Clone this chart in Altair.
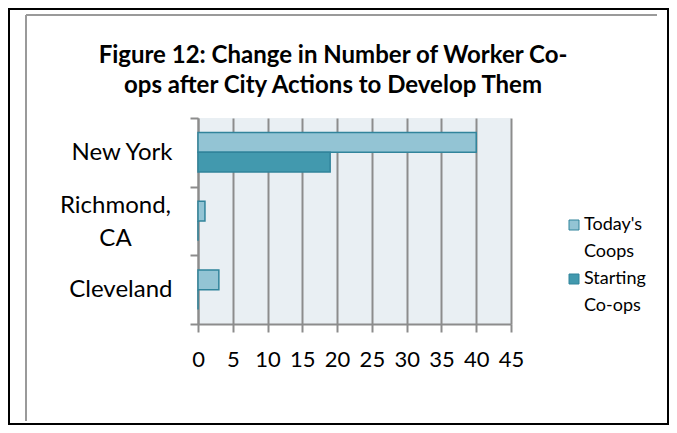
import altair as alt
import pandas as pd

cities = ["New York", "Richmond, CA", "Cleveland"]
series = ["Today's Coops", "Starting Co-ops"]
todays = [40, 1, 3]
starting = [19, 0, 0]
x_ticks = [0, 5, 10, 15, 20, 25, 30, 35, 40, 45]
title_lines = ["Figure 12: Change in Number of Worker Co-", "ops after City Actions to Develop Them"]

rows = []
for c, t, s in zip(cities, todays, starting):
    rows.append({"city": c, "series": series[0], "value": t})
    rows.append({"city": c, "series": series[1], "value": s})
df = pd.DataFrame(rows)

FONT = "Lato"
W, H = 313, 206

bars = alt.Chart(df).mark_bar(stroke="#31849B", strokeWidth=1.5).encode(
    x=alt.X("value:Q",
            scale=alt.Scale(domain=[0, 45], nice=False, zero=True),
            axis=alt.Axis(values=x_ticks, title=None, grid=True, gridColor="#8C8C8C",
                          gridWidth=2, domainColor="#8C8C8C", domainWidth=2,
                          tickColor="#8C8C8C", tickWidth=2, tickSize=8,
                          labelFont=FONT, labelFontSize=22, labelColor="#000000",
                          labelPadding=17, labelFlush=False)),
    y=alt.Y("city:N", sort=cities,
            scale=alt.Scale(paddingInner=0, paddingOuter=0),
            axis=alt.Axis(title=None, tickBand="extent", grid=False,
                          domainColor="#8C8C8C", domainWidth=2,
                          tickColor="#8C8C8C", tickWidth=2, tickSize=8,
                          labelFont=FONT, labelFontSize=24, labelColor="#000000",
                          labelLineHeight=33,
                          labelExpr="datum.label == 'Richmond, CA' ? ['Richmond,', 'CA'] : datum.label",
                          labelAlign=alt.condition("datum.value == 'Richmond, CA'", alt.value("center"), alt.value("right")),
                          labelOffset=alt.condition("datum.value == 'Richmond, CA'", alt.value(-16), alt.value(0)),
                          labelPadding=alt.condition("datum.value == 'Richmond, CA'", alt.value(75), alt.value(18)))),
    yOffset=alt.YOffset("series:N", sort=series,
                        scale=alt.Scale(paddingInner=0, paddingOuter=0.74)),
    color=alt.Color("series:N", sort=series,
                    scale=alt.Scale(domain=series, range=["#93C4D4", "#4299AE"]),
                    legend=alt.Legend(title=None, orient="none", legendX=367, legendY=98,
                                      symbolType="square", symbolSize=100,
                                      symbolStrokeColor="#31849B", symbolStrokeWidth=1,
                                      labelFont=FONT, labelFontSize=18, labelColor="#000000",
                                      labelExpr="split(datum.label, ' ')",
                                      rowPadding=9, labelOffset=1)),
)

blank = alt.Data(values=[{}])
outer = alt.Chart(blank).mark_rect(filled=False, stroke="#000000", strokeWidth=2).encode(
    x=alt.value(-189), x2=alt.value(470), y=alt.value(-109), y2=alt.value(306))
gray_left = alt.Chart(blank).mark_rule(color="#9A9A9A", strokeWidth=2).encode(
    x=alt.value(-172), y=alt.value(-103), y2=alt.value(303))
gray_top = alt.Chart(blank).mark_rule(color="#9A9A9A", strokeWidth=2).encode(
    x=alt.value(-172), x2=alt.value(459), y=alt.value(-103))
title = alt.Chart(blank).mark_text(
    text=title_lines, font=FONT, fontSize=24, fontWeight="bold", color="#000000",
    align="center", baseline="alphabetic", lineHeight=30).encode(
    x=alt.value(135), y=alt.value(-55))

chart = alt.layer(outer, gray_left, gray_top, title, bars).properties(
    width=W, height=H,
    autosize=alt.AutoSizeParams(type="none"),
    padding={"left": 190, "top": 110, "right": 158, "bottom": 101},
).configure(background="#FFFFFF", style={"guide-label": {"lineHeight": 27}}
).configure_view(fill="#E9EFF3", stroke=None)

chart.save("out.html", embed_options={"renderer": "svg", "actions": False})
